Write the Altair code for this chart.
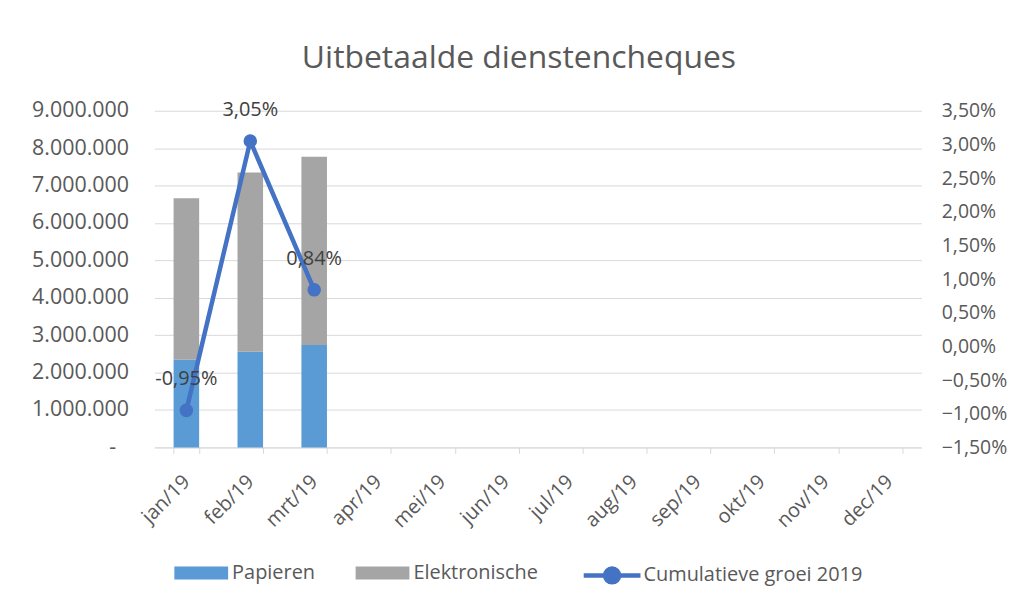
import altair as alt
import pandas as pd

months = ["jan/19", "feb/19", "mrt/19", "apr/19", "mei/19", "jun/19",
          "jul/19", "aug/19", "sep/19", "okt/19", "nov/19", "dec/19"]
bar_months = ["jan/19", "feb/19", "mrt/19"]
papieren = [2340000, 2560000, 2740000]
elektronische = [4320000, 4790000, 5030000]
groei = [-0.95, 3.05, 0.84]
series = ["Papieren", "Elektronische"]
series_colors = ["#5B9BD5", "#A5A5A5"]
line_name = "Cumulatieve groei 2019"
line_color = "#4472C4"
left_ticks = [0, 1000000, 2000000, 3000000, 4000000, 5000000, 6000000, 7000000, 8000000, 9000000]
right_ticks = [-1.5, -1.0, -0.5, 0.0, 0.5, 1.0, 1.5, 2.0, 2.5, 3.0, 3.5]

FONT = "Open Sans"
TXT = "#595959"
GRID = "#d9d9d9"

rows = []
for m, p, e in zip(bar_months, papieren, elektronische):
    rows.append({"maand": m, "serie": "Papieren", "waarde": p, "volg": 0})
    rows.append({"maand": m, "serie": "Elektronische", "waarde": e, "volg": 1})
bars_df = pd.DataFrame(rows)

line_df = pd.DataFrame({
    "maand": bar_months,
    "groei": groei,
    "serie": [line_name] * len(bar_months),
    "label": [f"{v:.2f}".replace(".", ",") + "%" for v in groei],
})

x_enc = alt.X(
    "maand:N",
    sort=months,
    scale=alt.Scale(domain=months, paddingInner=0.6, paddingOuter=0.3),
    axis=alt.Axis(
        title=None, labelAngle=-45, labelAlign="right", labelBaseline="middle",
        labelFontSize=20, labelColor=TXT, labelFont=FONT, tickBand="extent",
        tickColor=GRID, tickSize=6, domainColor=GRID, labelPadding=25, grid=False,
    ),
)

bars = alt.Chart(bars_df).mark_bar().encode(
    x=x_enc,
    y=alt.Y(
        "waarde:Q", stack="zero",
        scale=alt.Scale(domain=[0, 9000000], nice=False),
        axis=alt.Axis(
            values=left_ticks, title=None, grid=True, gridColor=GRID,
            tickSize=0, domain=False,
            labelPadding={"condition": {"test": "datum.value == 0", "value": 39}, "value": 26},
            labelFontSize=21.5, labelColor=TXT, labelFont=FONT,
            labelExpr="datum.value == 0 ? '-' : format(datum.value / 1000000, '.0f') + '.000.000'",
        ),
    ),
    fill=alt.Fill(
        "serie:N",
        scale=alt.Scale(domain=series, range=series_colors),
        legend=alt.Legend(
            title=None, orient="none", legendX=37, legendY=454, direction="horizontal",
            symbolType="M-2.7,-0.65H2.7V0.65H-2.7Z", symbolSize=400, symbolStrokeWidth=0,
            labelOffset=21, columnPadding=40, labelFontSize=20, labelColor=TXT,
            labelFont=FONT, padding=0,
        ),
    ),
    order=alt.Order("volg:Q"),
)

y_right = alt.Y(
    "groei:Q",
    scale=alt.Scale(domain=[-1.5, 3.5], nice=False, zero=False),
    axis=alt.Axis(
        orient="right", values=right_ticks, title=None, grid=False, ticks=False,
        domain=False, labelPadding=20, labelFontSize=19.5, labelColor=TXT, labelFont=FONT,
        labelExpr="replace(format(datum.value, '.2f'), '.', ',') + '%'",
    ),
)

line = alt.Chart(line_df).mark_line(strokeWidth=4.5).encode(
    x=x_enc,
    y=y_right,
    stroke=alt.Stroke(
        "serie:N",
        scale=alt.Scale(domain=[line_name], range=[line_color]),
        legend=alt.Legend(
            title=None, orient="none", legendX=447, legendY=454,
            symbolType="M-2.85,0H2.85M0.7,0A0.7,0.7,0,1,1,-0.7,0A0.7,0.7,0,1,1,0.7,0Z",
            symbolSize=400, symbolStrokeWidth=4.5, symbolFillColor=line_color,
            symbolStrokeColor=line_color, labelOffset=19, labelFontSize=20,
            labelColor=TXT, labelFont=FONT, padding=0, labelLimit=400,
        ),
    ),
)

points = alt.Chart(line_df).mark_circle(size=185, opacity=1, color=line_color).encode(
    x=x_enc, y=y_right,
)

labels = alt.Chart(line_df).mark_text(
    dy=-31, fontSize=20, font=FONT, color="#404040", baseline="middle"
).encode(x=x_enc, y=y_right, text="label:N")

right_layer = alt.layer(line, points, labels)

chart = alt.layer(bars, right_layer).resolve_scale(y="independent").properties(
    width=770,
    height=338,
    autosize=alt.AutoSizeParams(type="none"),
    padding={"left": 147, "top": 102, "right": 88, "bottom": 140},
    background="white",
    title=alt.TitleParams(
        "Uitbetaalde dienstencheques", fontSize=32, font=FONT, color=TXT,
        fontWeight="normal", anchor="middle", dx=-19, offset=25,
    ),
).configure_view(stroke=None)

chart.save("out.html", embed_options={"renderer": "svg", "actions": False})
